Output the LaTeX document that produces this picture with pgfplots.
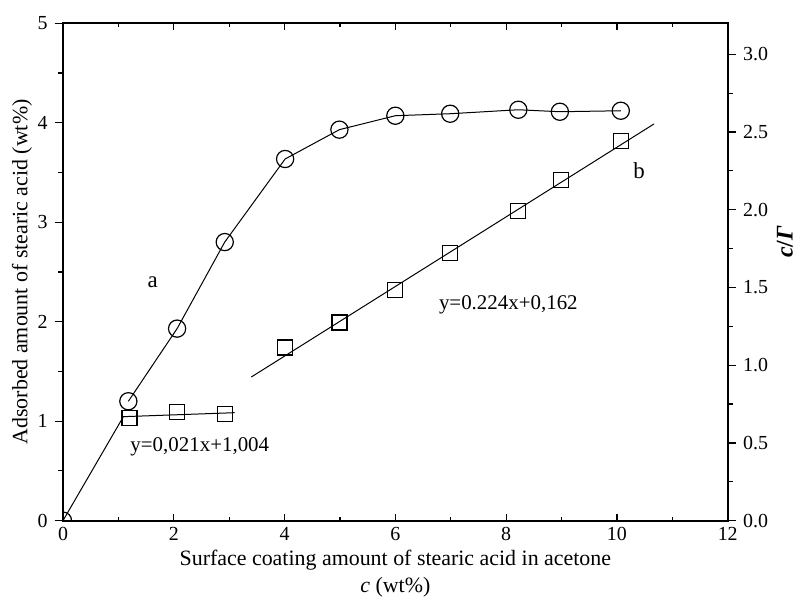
\documentclass[border=0pt]{standalone}
\usepackage{fontspec}
\setmainfont{Liberation Serif}
\usepackage{pgfplots}
\pgfplotsset{compat=1.18}
\begin{document}
\begin{tikzpicture}
\pgfplotsset{
  base/.style={
    width=332.4bp, height=248.75bp, scale only axis,
    xmin=0, xmax=12,
    /pgf/number format/assume math mode=true,
    tick label style={font=\fontsize{10}{12}\selectfont},
    label style={font=\fontsize{11}{13.5}\selectfont},
    axis line style={line width=0.9bp},
    every tick/.append style={black, line width=0.6bp},
  },
}
% frame + x ticks (inside)
\begin{axis}[base,
  ymin=0, ymax=5,
  xtick={0,2,...,12}, minor x tick num=1,
  ytick=\empty,
  tick align=inside,
  major tick length=3.3bp, minor tick length=2bp,
  xlabel={Surface coating amount of stearic acid in acetone\\\textit{c} (wt\%)},
  xlabel style={align=center, at={(rel axis cs:0.5,0)}, anchor=center, yshift=-26.6bp},
  clip marker paths=true,
]
  % origin circle (clipped)
  \addplot[only marks, mark=o, mark size=4.3bp, mark options={fill=white, line width=0.6bp}]
    coordinates {(0,0)};
  % fit line of low-concentration squares
  \addplot[black, line width=0.5bp, no marks]
    coordinates {(0,0) (1.09,1.045) (3.10,1.085)};
  % series a
  \addplot[black, line width=0.5bp, mark=o, mark size=4.3bp, mark options={fill=white, line width=0.6bp}]
    coordinates {(1.18,1.20) (2.06,1.93) (2.92,2.80) (4.01,3.635) (4.99,3.93) (6.00,4.07) (6.99,4.09) (8.22,4.13) (8.97,4.11) (10.07,4.12)};
  % low-concentration squares
  \addplot[only marks, mark=square, mark size=3.75bp, mark options={fill=white, line width=0.6bp}]
    coordinates {(1.20,1.035) (2.06,1.09) (2.93,1.07)};
  \node[font=\fontsize{11.5}{13}\selectfont] at (axis cs:1.62,2.40) {a};
  \node[font=\fontsize{11.5}{13}\selectfont] at (axis cs:10.4,3.52) {b};
  \node[font=\fontsize{10.5}{13}\selectfont] at (axis cs:2.47,0.745) {y=0,021x+1,004};
  \node[font=\fontsize{10.5}{13}\selectfont] at (axis cs:8.04,2.17) {y=0.224x+0,162};
\end{axis}
% left y axis (outside ticks)
\begin{axis}[base,
  axis x line=none, axis y line*=left,
  ymin=0, ymax=5,
  ytick={0,1,...,5}, minor y tick num=1,
  tick align=outside,
  major tick length=4.2bp, minor tick length=2.5bp,
  ylabel={Adsorbed amount of stearic acid (wt\%)},
  ylabel style={at={(rel axis cs:-0.0617,0.5)}, anchor=center},
]
\end{axis}
% right y axis
\begin{axis}[base,
  axis x line=none, axis y line*=right,
  ymin=0, ymax=3.2,
  ytick={0,0.5,...,3.0}, minor y tick num=1,
  tick align=outside,
  major tick length=4.2bp, minor tick length=2.5bp,
  yticklabel style={/pgf/number format/.cd, fixed, fixed zerofill, precision=1},
  ylabel={\textbf{\textit{c}/\textit{Γ}}},
  ylabel style={font=\fontsize{12}{14}\selectfont, at={(rel axis cs:1.086,0.56)}, anchor=center},
]
  \addplot[black, line width=0.5bp, no marks]
    coordinates {(3.40,0.924) (10.67,2.552)};
  \addplot[only marks, mark=square, mark size=3.75bp, mark options={fill=white, line width=0.6bp}]
    coordinates {(4.01,1.114) (4.99,1.275) (6.00,1.483) (6.99,1.722) (8.22,1.992) (8.99,2.19) (10.07,2.442)};
\end{axis}
\pgfresetboundingbox
\path ([shift={(-31.5bp,-38.15bp)}]current axis.south west) rectangle ([shift={(34.15bp,11.6bp)}]current axis.north east);
\end{tikzpicture}
\end{document}
